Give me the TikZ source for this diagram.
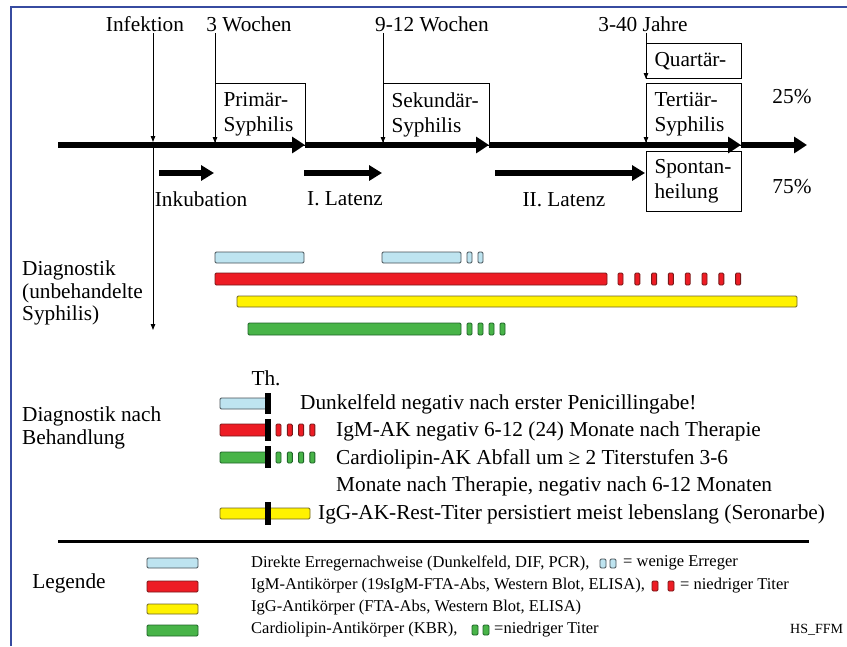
\documentclass[tikz,border=0pt]{standalone}
\usepackage{fontspec}
\setmainfont{Liberation Serif}
\usepackage{tikz}
\usetikzlibrary{arrows.meta,positioning}
\definecolor{framecol}{RGB}{55,75,160}
\definecolor{lbfill}{RGB}{190,228,240}
\definecolor{lbline}{RGB}{70,80,85}
\definecolor{redfill}{RGB}{237,28,36}
\definecolor{redline}{RGB}{120,25,25}
\definecolor{yelfill}{RGB}{255,242,0}
\definecolor{yelline}{RGB}{110,100,40}
\definecolor{grnfill}{RGB}{72,180,72}
\definecolor{grnline}{RGB}{30,100,40}
\newcommand\tlfont{\fontsize{21.3}{25}\selectfont}
\newcommand\sidefont{\fontsize{21.3}{22.5}\selectfont}
\newcommand\lgfont{\fontsize{16.5}{20}\selectfont}
\tikzset{
  tllabel/.style={font=\tlfont, inner sep=1pt},
  sidelabel/.style={font=\sidefont, align=left, anchor=west, inner sep=0pt},
  rowtext/.style={font=\tlfont, anchor=west, inner sep=0pt},
  legtext/.style={font=\lgfont, anchor=west, inner sep=0pt},
  phasebox/.style={draw, line width=1pt, anchor=north west, inner xsep=8pt, inner ysep=2pt, align=left, font=\tlfont},
  tlarrow/.style={line width=5.5pt, -{Triangle[length=13pt,width=16pt]}},
  subarrow/.style={line width=6pt, -{Triangle[length=13pt,width=15pt]}},
  markarrow/.style={line width=1pt, -{Triangle[length=6pt,width=4.5pt]}},
  lbbar/.style={draw=lbline, fill=lbfill, line width=0.9pt, rounded corners=1.2pt},
  redbar/.style={draw=redline, fill=redfill, line width=0.9pt, rounded corners=1.2pt},
  yelbar/.style={draw=yelline, fill=yelfill, line width=0.9pt, rounded corners=1.2pt},
  grnbar/.style={draw=grnline, fill=grnfill, line width=0.9pt, rounded corners=1.2pt},
  thmark/.style={line width=5.5pt}
}
\begin{document}
\begin{tikzpicture}[x=1pt,y=-1pt]
  \useasboundingbox (0,0) rectangle (847,646);
  \draw[framecol, line width=1.5pt] (11,646) -- (11,7) -- (847,7);

  % stages
  \node[phasebox, text width=74pt, minimum height=62pt] (prim) at (215,83) {Primär-\\Syphilis};
  \node[phasebox, text width=90pt, minimum height=62pt] (sek) at (383,83) {Sekundär-\\Syphilis};
  \node[phasebox, text width=79pt, minimum height=35pt] (quart) at (646,43) {Quartär-};
  \node[phasebox, text width=79pt, minimum height=62pt] (tert) at (646,83) {Tertiär-\\Syphilis};
  \node[phasebox, text width=79pt, minimum height=60pt] (spont) at (646,151) {Spontan-\\heilung};

  % time line
  \coordinate (t0) at (58,145);
  \coordinate (t1) at (305,145);
  \coordinate (t2) at (489,145);
  \coordinate (t3) at (741,145);
  \coordinate (t4) at (807,145);
  \draw[tlarrow] (t0) -- (t1);
  \draw[tlarrow] (t1) -- (t2);
  \draw[tlarrow] (t2) -- (t3);
  \draw[tlarrow] (t3) -- (t4);

  \node[tllabel] (inf) at (145,24) {Infektion};
  \node[tllabel] (w3) at (249,24) {3 Wochen};
  \node[tllabel] (w912) at (432,24) {9-12 Wochen};
  \node[tllabel] (j340) at (643,24) {3-40 Jahre};
  \coordinate (infx) at (153,145);
  \coordinate (diagend) at (153,330);
  \draw[markarrow] (inf.south -| infx) -- ([yshift=3pt]infx);
  \draw[markarrow] (w3.south -| prim.west) -- ([yshift=3pt]prim.south west);
  \draw[markarrow] (w912.south -| sek.west) -- ([yshift=3pt]sek.south west);
  \draw[markarrow] (j340.south -| quart.west) -- (quart.south west);
  \draw[markarrow] (tert.north west) -- ([yshift=3pt]tert.south west);
  \draw[markarrow] (infx) -- (diagend);

  \node[tllabel] (p25) at (792,97) {25\%};
  \node[tllabel] (p75) at (792,187) {75\%};

  % latency
  \coordinate (ink1) at (159,173);
  \coordinate (ink2) at (214,173);
  \coordinate (lat1a) at (304,173);
  \coordinate (lat1b) at (382,173);
  \coordinate (lat2a) at (495,173);
  \coordinate (lat2b) at (645,173);
  \draw[subarrow] (ink1) -- (ink2);
  \draw[subarrow] (lat1a) -- (lat1b);
  \draw[subarrow] (lat2a) -- (lat2b);
  \node[tllabel] (ink) at (201,199) {Inkubation};
  \node[tllabel] (lat1) at (345,199) {I. Latenz};
  \node[tllabel] (lat2) at (564,200) {II. Latenz};

  % untreated
  \node[sidelabel] (diag1) at (22,293) {Diagnostik\\(unbehandelte\\Syphilis)};
  \draw[lbbar] (215,252) rectangle (304,263);
  \draw[lbbar] (382,252) rectangle (461,263);
  \foreach \x in {467,478} \draw[lbbar] (\x,252) rectangle ++(5,11);
  \draw[redbar] (215,273) rectangle (607,285);
  \foreach \i in {0,...,7} \draw[redbar] (618+16.8*\i,273) rectangle ++(5,12);
  \draw[yelbar] (237,296) rectangle (797,307);
  \draw[grnbar] (248,323) rectangle (461,335);
  \foreach \x in {467,478,489,500} \draw[grnbar] (\x,323) rectangle ++(5,12);

  % treated
  \node[tllabel] (th) at (266,378) {Th.};
  \node[sidelabel] (diag2) at (22,428) {Diagnostik nach\\Behandlung};
  \draw[lbbar] (220,398) rectangle (267,409);
  \draw[thmark] (268,393) -- (268,414);
  \node[rowtext] (dunk) at (300,404) {Dunkelfeld negativ nach erster Penicillingabe!};
  \draw[redbar] (220,424) rectangle (267,436);
  \foreach \i in {0,...,3} \draw[redbar] (276+11.3*\i,424) rectangle ++(5,12);
  \draw[thmark] (268,419) -- (268,441);
  \node[rowtext] (igm) at (336,431) {IgM-AK negativ 6-12 (24) Monate nach Therapie};
  \draw[grnbar] (220,452) rectangle (267,463);
  \foreach \i in {0,...,3} \draw[grnbar] (276+11.3*\i,452) rectangle ++(5,11);
  \draw[thmark] (268,446) -- (268,468);
  \node[rowtext, align=left, font=\fontsize{21.3}{27}\selectfont] (card) at (336,473) {Cardiolipin-AK Abfall um ≥ 2 Titerstufen 3-6\\Monate nach Therapie, negativ nach 6-12 Monaten};
  \draw[yelbar] (220,508) rectangle (310,519);
  \draw[thmark] (268,502) -- (268,525);
  \node[rowtext] (igg) at (318,514) {IgG-AK-Rest-Titer persistiert meist lebenslang (Seronarbe)};

  % legend
  \coordinate (sep1) at (58,541);
  \coordinate (sep2) at (809,541);
  \draw[line width=3pt] (sep1) -- (sep2);
  \node[tllabel] (leg) at (69,583) {Legende};
  \draw[lbbar] (147,558) rectangle (198,568);
  \draw[redbar] (147,581) rectangle (198,592);
  \draw[yelbar] (147,604) rectangle (198,614);
  \draw[grnbar] (147,625) rectangle (198,636);
  \node[legtext] (leg1) at (251,563) {Direkte Erregernachweise (Dunkelfeld, DIF, PCR),};
  \foreach \x in {600,610} \draw[lbbar] (\x,559) rectangle ++(6,9);
  \node[legtext] (leg1b) at (623,563) {= wenige Erreger};
  \node[legtext] (leg2) at (251,586) {IgM-Antikörper (19sIgM-FTA-Abs, Western Blot, ELISA),};
  \foreach \x in {652,668} \draw[redbar] (\x,581) rectangle ++(6,10);
  \node[legtext] (leg2b) at (680,586) {= niedriger Titer};
  \node[legtext] (leg3) at (251,608) {IgG-Antikörper (FTA-Abs, Western Blot, ELISA)};
  \node[legtext] (leg4) at (251,630) {Cardiolipin-Antikörper (KBR),};
  \foreach \x in {472,483} \draw[grnbar] (\x,625) rectangle ++(6,10);
  \node[legtext] (leg4b) at (494,630) {=niedriger Titer};
  \node[legtext, font=\fontsize{14}{16}\selectfont] (hs) at (790,630) {HS\_FFM};
\end{tikzpicture}
\end{document}
